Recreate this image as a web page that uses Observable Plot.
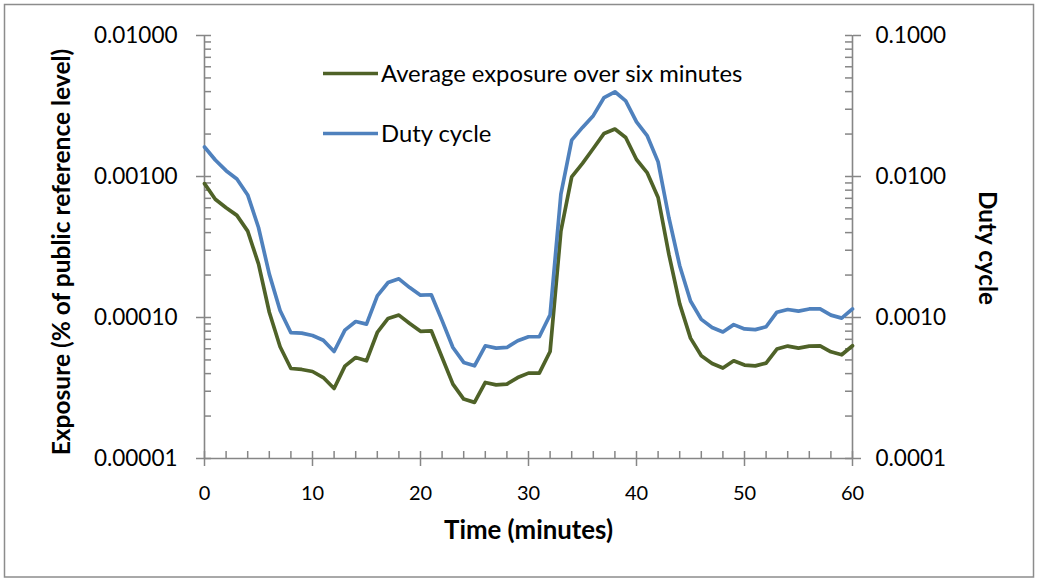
<!DOCTYPE html>
<html>
<head>
<meta charset="utf-8">
<script src="https://cdn.jsdelivr.net/npm/d3@7"></script>
<script src="https://cdn.jsdelivr.net/npm/@observablehq/plot@0.6"></script>
<style>
  html, body { margin: 0; padding: 0; background: #ffffff; }
  #chart { width: 1038px; height: 581px; }
</style>
</head>
<body>
<div id="chart"></div>
<script>
// Time axis (minutes)
const minutes = [0, 1, 2, 3, 4, 5, 6, 7, 8, 9, 10, 11, 12, 13, 14, 15, 16, 17, 18, 19, 20,
  21, 22, 23, 24, 25, 26, 27, 28, 29, 30, 31, 32, 33, 34, 35, 36, 37, 38, 39, 40,
  41, 42, 43, 44, 45, 46, 47, 48, 49, 50, 51, 52, 53, 54, 55, 56, 57, 58, 59, 60];

// Average exposure over six minutes (% of public reference level), left axis
const exposure = [0.00089, 0.00069, 0.00060, 0.00053, 0.00041, 0.00024, 0.000109, 0.000062,
  0.0000435, 0.0000428, 0.0000414, 0.0000375, 0.0000314, 0.0000452, 0.0000520, 0.0000493,
  0.0000783, 0.0000984, 0.000104, 0.0000907, 0.0000798, 0.0000805, 0.0000520, 0.0000337,
  0.0000264, 0.0000250, 0.0000346, 0.0000333, 0.0000337, 0.0000375, 0.0000403, 0.0000403,
  0.0000574, 0.00041, 0.000995, 0.00124, 0.00158, 0.00202, 0.00217, 0.00189, 0.00132,
  0.00106, 0.00071, 0.00028, 0.000125, 0.0000714, 0.0000535, 0.0000472, 0.0000438,
  0.0000493, 0.0000460, 0.0000454, 0.0000475, 0.0000597, 0.0000627, 0.0000607, 0.0000627,
  0.0000630, 0.0000571, 0.0000544, 0.0000630];

// Duty cycle, right axis
const dutyCycle = [0.0162, 0.0131, 0.0110, 0.0096, 0.0074, 0.00435, 0.00203, 0.00112,
  0.00078, 0.000775, 0.000745, 0.00069, 0.000574, 0.000814, 0.000937, 0.000898,
  0.001425, 0.00177, 0.00188, 0.00163, 0.00144, 0.00145, 0.00095, 0.000613,
  0.00048, 0.000454, 0.00063, 0.000607, 0.000613, 0.000684, 0.00073, 0.00073,
  0.001045, 0.0075, 0.0181, 0.0223, 0.0270, 0.0363, 0.0399, 0.0344, 0.0244,
  0.0194, 0.0127, 0.0051, 0.00233, 0.00131, 0.00097, 0.00085, 0.00079,
  0.00089, 0.00083, 0.00082, 0.00086, 0.00109, 0.00114, 0.00111, 0.00115,
  0.00115, 0.00104, 0.00099, 0.00115];

// Series names
const seriesNames = ["Average exposure over six minutes", "Duty cycle"];

// Tick values
const xMajorTicks = [0, 10, 20, 30, 40, 50, 60];
const xMinorTicks = [2, 4, 6, 8, 12, 14, 16, 18, 22, 24, 26, 28, 32, 34, 36, 38,
  42, 44, 46, 48, 52, 54, 56, 58];
const yMajorTicks = [0.00001, 0.0001, 0.001, 0.01];
const yMinorMultipliers = [2, 3, 4, 5, 6, 7, 8, 9];

// The right (duty cycle) axis spans ten times the left axis
const DUTY_PER_EXPOSURE = 10;

const rows = minutes.map((t, i) => ({t, exposure: exposure[i], duty: dutyCycle[i]}));
const yMinorTicks = yMajorTicks.slice(0, -1).flatMap(d => yMinorMultipliers.map(m => d * m));

const W = 1038, H = 581;
const M = {top: 35, right: 186, bottom: 123, left: 204};
const frameW = W - M.left - M.right;
const frameH = H - M.top - M.bottom;
const AXIS = "#868686";
const GREEN = "#4F6228";
const BLUE = "#4F81BD";
const FONT = "Lato, 'Open Sans', sans-serif";

const chart = Plot.plot({
  width: W,
  height: H,
  marginTop: M.top,
  marginRight: M.right,
  marginBottom: M.bottom,
  marginLeft: M.left,
  style: {fontFamily: FONT, background: "#ffffff", color: "#000000"},
  x: {domain: [0, 60]},
  y: {type: "log", domain: [0.00001, 0.01]},
  marks: [
    // axis lines
    Plot.ruleX([0, 60], {stroke: AXIS, strokeWidth: 1.6}),
    Plot.ruleY([0.00001], {stroke: AXIS, strokeWidth: 1.6}),
    // inward ticks (minor and major) on all three axes
    Plot.tickY(yMajorTicks.concat(yMinorTicks), {y: d => d, insetRight: frameW - 7, stroke: AXIS, strokeWidth: 1.5}),
    Plot.tickY(yMajorTicks.concat(yMinorTicks), {y: d => d, insetLeft: frameW - 7, stroke: AXIS, strokeWidth: 1.5}),
    Plot.tickX(xMajorTicks.concat(xMinorTicks), {x: d => d, insetTop: frameH - 7, stroke: AXIS, strokeWidth: 1.5}),
    // outward major ticks with labels
    Plot.axisY(yMajorTicks, {
      anchor: "left", tickSize: 8, tickPadding: 19, label: null,
      tickFormat: d3.format(".5f"), stroke: AXIS, strokeWidth: 1.5, fill: "#000000",
      fontSize: 22.5, fontFamily: FONT
    }),
    Plot.axisY(yMajorTicks, {
      anchor: "right", tickSize: 8, tickPadding: 15, label: null,
      tickFormat: d => (d * DUTY_PER_EXPOSURE).toFixed(4), stroke: AXIS, strokeWidth: 1.5, fill: "#000000",
      fontSize: 22.5, fontFamily: FONT
    }),
    Plot.axisX(xMajorTicks, {
      anchor: "bottom", tickSize: 8, tickPadding: 19, label: null,
      tickFormat: d3.format("d"), stroke: AXIS, strokeWidth: 1.5, fill: "#000000",
      fontSize: 20, fontFamily: FONT
    }),
    // axis titles
    Plot.text(["Exposure (% of public reference level)"], {
      frameAnchor: "left", dx: 62 - M.left, dy: 5, rotate: -90,
      textAnchor: "middle", lineAnchor: "middle",
      fontSize: 24.5, fontWeight: "bold", fontFamily: FONT, fill: "#000000"
    }),
    Plot.text(["Duty cycle"], {
      frameAnchor: "right", dx: 986 - (W - M.right), dy: 1, rotate: 90,
      textAnchor: "middle", lineAnchor: "middle",
      fontSize: 24.3, fontWeight: "bold", fontFamily: FONT, fill: "#000000"
    }),
    Plot.text(["Time (minutes)"], {
      frameAnchor: "bottom", dy: 530 - (H - M.bottom),
      textAnchor: "middle", lineAnchor: "middle",
      fontSize: 25.8, fontWeight: "bold", fontFamily: FONT, fill: "#000000"
    }),
    // series
    Plot.line(rows, {x: "t", y: "exposure", stroke: GREEN, strokeWidth: 3.7, strokeLinejoin: "round"}),
    Plot.line(rows, {x: "t", y: d => d.duty / DUTY_PER_EXPOSURE, stroke: BLUE, strokeWidth: 3.7, strokeLinejoin: "round"})
  ]
});

// Legend inside the plot area
const svg = d3.select(chart);
const legend = svg.append("g")
  .attr("font-family", FONT)
  .attr("font-size", 23.8)
  .attr("text-anchor", "start");
[[seriesNames[0], GREEN, 73.5], [seriesNames[1], BLUE, 133.5]].forEach(([name, color, y]) => {
  legend.append("line")
    .attr("x1", 323).attr("x2", 378).attr("y1", y).attr("y2", y)
    .attr("stroke", color).attr("stroke-width", 3.7);
  legend.append("text")
    .attr("x", 381).attr("y", y).attr("dy", "0.35em")
    .attr("text-anchor", "start")
    .attr("fill", "#000000").text(name);
});

// Chart border
svg.append("rect")
  .attr("x", 4.5).attr("y", 4.5).attr("width", W - 9).attr("height", H - 8.5)
  .attr("fill", "none").attr("stroke", "#8c8c8c").attr("stroke-width", 1.5);

document.getElementById("chart").append(chart);
</script>
</body>
</html>
